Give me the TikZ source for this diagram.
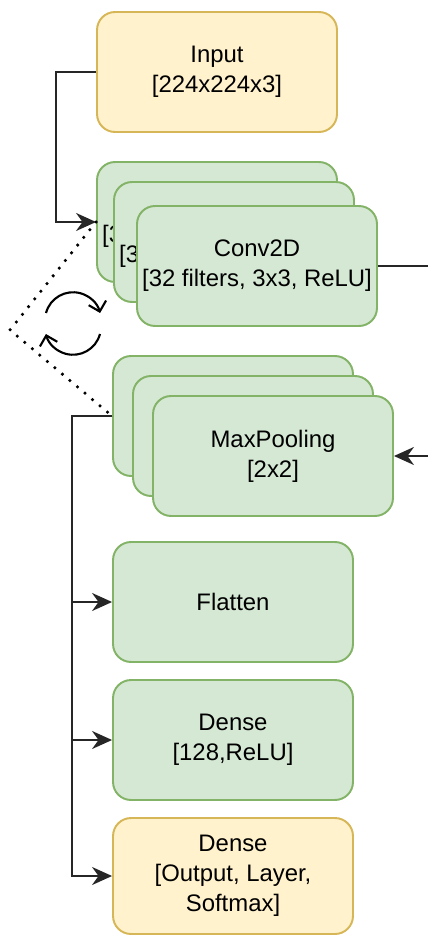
\documentclass[tikz,border=0pt]{standalone}
\usepackage{fontspec}
\setmainfont{Liberation Sans}
\usetikzlibrary{arrows.meta}
\definecolor{greenfill}{HTML}{D5E8D4}
\definecolor{greenline}{HTML}{82B366}
\definecolor{yellowfill}{HTML}{FFF2CC}
\definecolor{yellowline}{HTML}{D6B656}
\tikzset{
  >={Stealth[length=4mm,width=3.6mm,inset=1.3mm]},
}
\tikzstyle{layer}=[draw=greenline,fill=greenfill,line width=1.1pt,rounded corners=0.36cm,
  minimum width=4.8cm,minimum height=2.4cm,inner sep=0pt,align=center,
  font=\fontsize{13.6}{17}\selectfont]
\tikzstyle{io}=[layer,draw=yellowline,fill=yellowfill]
\tikzstyle{wire}=[line width=1.2pt,black!85]
\tikzstyle{dots}=[line width=2pt,line cap=round,dash pattern=on 0pt off 5.6pt]
\tikzstyle{turn}=[line width=1.2pt,-{Straight Barb[length=1.8mm,width=3.6mm]}]

\begin{document}
\begin{tikzpicture}[x=0.02cm,y=-0.02cm]
    \useasboundingbox (0,0) rectangle (427,935);
    \node[io] (input) at (217,72) {Input\\{}[224x224x3]};
    % conv stack
    \node[layer] (convA) at (217,222) {Conv2D\\{}[32 filters, 3x3, ReLU]};
    \node[layer] (convB) at (234,242) {Conv2D\\{}[32 filters, 3x3, ReLU]};
    \node[layer] (convC) at (257,266) {Conv2D\\{}[32 filters, 3x3, ReLU]};
    % pooling stack
    \node[layer] (maxA) at (233,416) {};
    \node[layer] (maxB) at (253,436) {};
    \node[layer] (maxC) at (273,456) {MaxPooling\\{}[2x2]};
    \node[layer] (flat) at (233,602) {Flatten};
    \node[layer] (dense) at (233,740) {Dense\\{}[128,ReLU]};
    \node[io,minimum height=2.32cm] (output) at (233,876) {Dense\\{}[Output, Layer,\\Softmax]};
    \coordinate (convout) at (430,266);
    \coordinate (maxin) at (430,456);
    \coordinate (pivot) at (10,330);

    \draw[wire,->] (input.west) -- ++(-40,0) |- (convA.west);
    \draw[wire] (convC.east) -- (convout);
    \draw[wire,->] (maxin) -- (maxC.east);
    \draw[wire,->] (maxA.west) -- ++(-40,0) |- (flat.west);
    \draw[wire,->] (maxA.west) -- ++(-40,0) |- (dense.west);
    \draw[wire,->] (maxA.west) -- ++(-40,0) |- (output.west);
    \draw[dots] (convA.west) -- (pivot) -- (maxA.west);
    \draw[turn] (46,313) arc[start angle=195,end angle=345,radius=28];
    \draw[turn] (100,334) arc[start angle=15,end angle=165,radius=28];
\end{tikzpicture}
\end{document}
